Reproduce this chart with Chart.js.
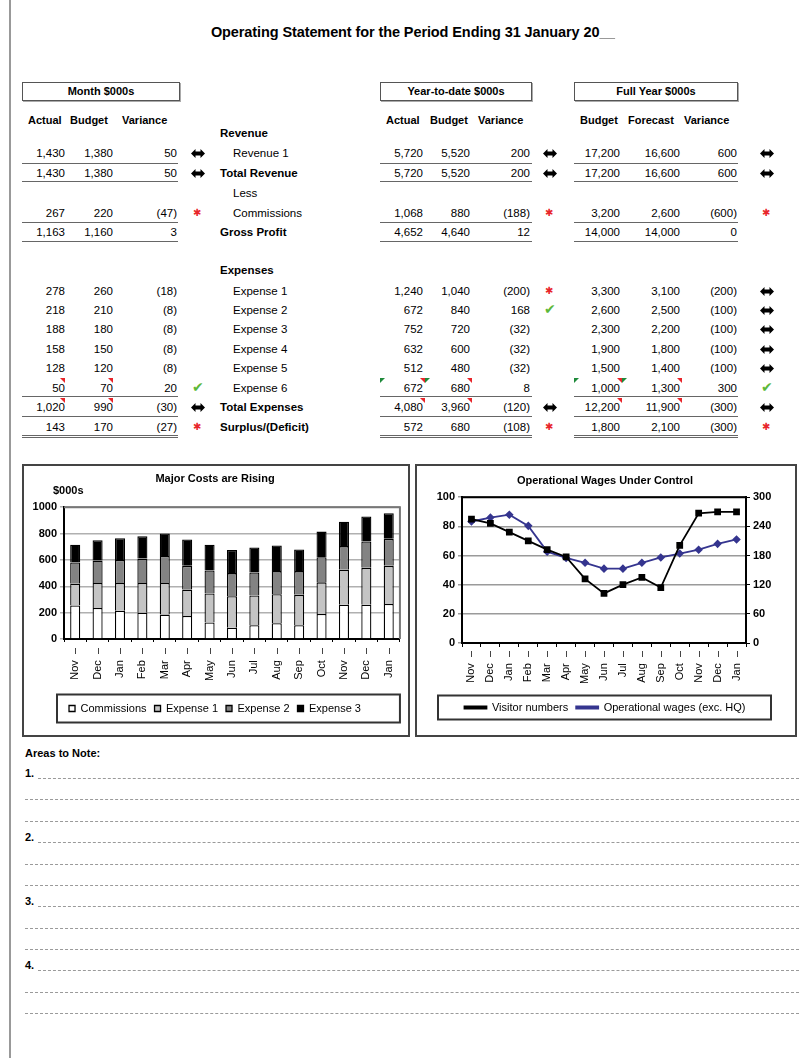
<!DOCTYPE html>
<html>
<head>
<meta charset="utf-8">
<script src="https://cdn.jsdelivr.net/npm/chart.js@4.4.0/dist/chart.umd.min.js"></script>
<style>
  body { margin: 0; background: #fff; }
  #page { position: relative; width: 799px; height: 1058px; overflow: hidden; font-family: "Liberation Sans", Arial, sans-serif; color: #000; }
  .t { position: absolute; white-space: nowrap; font-size: 11.5px; line-height: 14px; }
  .b { font-weight: bold; }
  .num { text-align: right; width: 80px; }
  .hbox { position: absolute; height: 17px; border: 1px solid #555; box-shadow: 1px 1px 0 #aaa; font-weight: bold; font-size: 11px; line-height: 17px; text-align: center; }
  .uline { position: absolute; height: 0; border-top: 1.5px solid #666; }
  .frame { position: absolute; border: 2px solid #444; background: #fff; }
  .note { position: absolute; height: 0; border-top: 1px dashed #9a9a9a; }
  .tri { position: absolute; width: 0; height: 0; }
</style>
</head>
<body>
<div id="page">
  <div style="position:absolute;left:9px;top:0;width:2px;height:1058px;background:#999"></div>
  <div class="t b" style="left:0;width:826px;top:23px;text-align:center;font-size:14.5px;line-height:18px;letter-spacing:-0.1px">Operating Statement for the Period Ending 31 January 20<span style="text-decoration:underline;color:#999">&nbsp;&nbsp;&nbsp;&nbsp;</span></div>

  <div class="hbox" style="left:22px;top:82px;width:156px">Month $000s</div>
  <div class="hbox" style="left:380px;top:82px;width:150px">Year-to-date $000s</div>
  <div class="hbox" style="left:574px;top:82px;width:162px">Full Year $000s</div>

  <div class="frame" style="left:22px;top:464px;width:384px;height:269px"><canvas id="costChart" width="384" height="269"></canvas></div>
  <div class="t b" style="left:53px;top:483px;font-size:11px">$000s</div>
  <div class="frame" style="left:415px;top:464px;width:378px;height:269px"><canvas id="wageChart" width="378" height="269"></canvas></div>

  <div class="t b" style="left:25px;top:746px;font-size:11px">Areas to Note:</div>
</div>

<script>
// Tabela: textos das linhas
const rowNames = ['Revenue 1', 'Total Revenue', 'Commissions', 'Gross Profit', 'Expense 1', 'Expense 2', 'Expense 3', 'Expense 4', 'Expense 5', 'Expense 6', 'Total Expenses', 'Surplus/(Deficit)'];
const rowBold = [false, true, false, true, false, false, false, false, false, false, true, true];

// Valores do mês
const monthActual = ['1,430', '1,430', '267', '1,163', '278', '218', '188', '158', '128', '50', '1,020', '143'];
const monthBudget = ['1,380', '1,380', '220', '1,160', '260', '210', '180', '150', '120', '70', '990', '170'];
const monthVar = ['50', '50', '(47)', '3', '(18)', '(8)', '(8)', '(8)', '(8)', '20', '(30)', '(27)'];
const monthFlag = ['eq', 'eq', 'bad', '', '', '', '', '', '', 'ok', 'eq', 'bad'];

// Valores acumulados no ano
const ytdActual = ['5,720', '5,720', '1,068', '4,652', '1,240', '672', '752', '632', '512', '672', '4,080', '572'];
const ytdBudget = ['5,520', '5,520', '880', '4,640', '1,040', '840', '720', '600', '480', '680', '3,960', '680'];
const ytdVar = ['200', '200', '(188)', '12', '(200)', '168', '(32)', '(32)', '(32)', '8', '(120)', '(108)'];
const ytdFlag = ['eq', 'eq', 'bad', '', 'bad', 'ok', '', '', '', '', 'eq', 'bad'];

// Valores do ano completo
const fyBudget = ['17,200', '17,200', '3,200', '14,000', '3,300', '2,600', '2,300', '1,900', '1,500', '1,000', '12,200', '1,800'];
const fyForecast = ['16,600', '16,600', '2,600', '14,000', '3,100', '2,500', '2,200', '1,800', '1,400', '1,300', '11,900', '2,100'];
const fyVar = ['600', '600', '(600)', '0', '(200)', '(100)', '(100)', '(100)', '(100)', '300', '(300)', '(300)'];
const fyFlag = ['eq', 'eq', 'bad', '', 'eq', 'eq', 'eq', 'eq', 'eq', 'ok', 'eq', 'bad'];

// Gráfico de custos
const months = ['Nov', 'Dec', 'Jan', 'Feb', 'Mar', 'Apr', 'May', 'Jun', 'Jul', 'Aug', 'Sep', 'Oct', 'Nov', 'Dec', 'Jan'];
const commissions = [255, 235, 215, 200, 185, 175, 125, 85, 105, 120, 105, 190, 260, 260, 265];
const expense1 = [165, 190, 210, 225, 240, 200, 220, 240, 225, 220, 230, 240, 265, 280, 290];
const expense2 = [160, 170, 175, 185, 205, 180, 175, 175, 175, 175, 180, 190, 180, 200, 205];
const expense3 = [135, 155, 165, 170, 170, 200, 195, 175, 190, 195, 165, 195, 185, 190, 195];
const costTicks = [0, 200, 400, 600, 800, 1000];

// Gráfico de salários
const visitorNumbers = [85, 82, 76, 70, 64, 59, 44, 34, 40, 45, 38, 67, 89, 90, 90];
const operationalWages = [250, 258, 264, 241, 188, 175, 165, 153, 153, 165, 176, 184, 192, 204, 213];

const page = document.getElementById('page');

function put(html, cls, style) {
    const d = document.createElement('div');
    d.className = cls;
    d.style.cssText = style;
    d.innerHTML = html;
    page.appendChild(d);
    return d;
}

// Posições das linhas e colunas
const rowY = [153, 173, 213, 232, 291, 310, 329, 349, 368, 388, 407, 427];
const groups = [
    { cols: [monthActual, monthBudget, monthVar], rights: [65, 113, 177], flags: monthFlag, icon: 198, line: [22, 178] },
    { cols: [ytdActual, ytdBudget, ytdVar], rights: [423, 470, 530], flags: ytdFlag, icon: 550, line: [380, 532] },
    { cols: [fyBudget, fyForecast, fyVar], rights: [620, 680, 737], flags: fyFlag, icon: 767, line: [574, 738] }
];

// Cabeçalhos das colunas
const heads = [['Actual', 28], ['Budget', 70], ['Variance', 122], ['Actual', 386], ['Budget', 430], ['Variance', 478], ['Budget', 580], ['Forecast', 628], ['Variance', 684]];
heads.forEach(h => put(h[0], 't b', `left:${h[1]}px;top:113px;font-size:11px`));

put('Revenue', 't b', 'left:220px;top:126px');
put('Less', 't', 'left:233px;top:186px');
put('Expenses', 't b', 'left:220px;top:263px');

const arrowSvg = '<svg width="14" height="9" viewBox="0 0 14 9"><path d="M0 4.5 L4.5 0 L4.5 2.6 L9.5 2.6 L9.5 0 L14 4.5 L9.5 9 L9.5 6.4 L4.5 6.4 L4.5 9 Z" fill="#000"/></svg>';

function icon(kind, x, y) {
    if (kind === 'eq') put(arrowSvg, 't', `left:${x - 7}px;top:${y - 6}px`);
    if (kind === 'bad') put('\u2731', 't', `left:${x - 5}px;top:${y - 7}px;color:#e8262b;font-family:'DejaVu Sans';font-size:10px`);
    if (kind === 'ok') put('\u2714', 't', `left:${x - 6}px;top:${y - 8}px;color:#5cb83a;font-family:'DejaVu Sans';font-size:14px`);
}

rowNames.forEach((name, i) => {
    const y = rowY[i];
    put(name, rowBold[i] ? 't b' : 't', `left:${rowBold[i] ? 220 : 233}px;top:${y - 7}px`);
    groups.forEach(g => {
        g.cols.forEach((col, c) => put(col[i], 't num', `left:${g.rights[c] - 80}px;top:${y - 7}px`));
        icon(g.flags[i], g.icon, y);
    });
});

// Sublinhados
const lineY = [163, 181, 222, 241, 396, 416, 435];
lineY.forEach((y, k) => groups.forEach(g => {
    put('', 'uline', `left:${g.line[0]}px;top:${y}px;width:${g.line[1] - g.line[0]}px`);
    if (k === lineY.length - 1) put('', 'uline', `left:${g.line[0]}px;top:${y + 2}px;width:${g.line[1] - g.line[0]}px`);
}));

// Marcadores de comentário
function tri(x, y, color, left) {
    const s = left ? `border-top:5px solid ${color};border-right:5px solid transparent;left:${x}px`
                   : `border-top:5px solid ${color};border-left:5px solid transparent;left:${x - 5}px`;
    put('', 'tri', `${s};top:${y}px`);
}
[[65, 378], [113, 378], [65, 398], [113, 398]].forEach(p => tri(p[0], p[1], '#e8262b', false));
[[425, 378], [472, 378], [425, 398], [472, 398], [622, 378], [682, 378], [622, 398], [682, 398]].forEach(p => tri(p[0], p[1], '#e8262b', false));
[[380, 378], [425, 378], [574, 378], [622, 378]].forEach(p => tri(p[0], p[1], '#1e8a3a', true));

// Áreas para anotação
const noteStart = 778;
for (let k = 0; k < 4; k++) {
    const y0 = noteStart + k * 64.1;
    put((k + 1) + '.', 't b', `left:25px;top:${y0 - 12}px;font-size:11px`);
    put('', 'note', `left:38px;top:${y0}px;width:761px`);
    put('', 'note', `left:25px;top:${y0 + 21.4}px;width:774px`);
    put('', 'note', `left:25px;top:${y0 + 42.8}px;width:774px`);
}

// Configuração geral dos gráficos
Chart.defaults.font.family = "'Liberation Sans', Arial, sans-serif";
Chart.defaults.font.size = 11;
Chart.defaults.font.weight = 'bold';
Chart.defaults.color = '#000';

// Plugin: moldura da área do gráfico e da legenda
const molduras = {
    id: 'molduras',
    afterDraw(chart, args, opts) {
        const ctx = chart.ctx;
        const a = chart.chartArea;
        ctx.save();
        ctx.strokeStyle = opts.plotColor || '#777';
        ctx.lineWidth = 2;
        ctx.beginPath();
        ctx.moveTo(a.left, a.top);
        ctx.lineTo(a.right, a.top);
        ctx.lineTo(a.right, a.bottom);
        ctx.stroke();
        const boxes = chart.legend.legendHitBoxes;
        if (boxes && boxes.length) {
            const cy = boxes[0].top + boxes[0].height / 2;
            ctx.strokeStyle = '#333';
            ctx.lineWidth = 2;
            ctx.strokeRect(a.left + opts.left, cy - opts.half, a.right + opts.right - a.left - opts.left, opts.half * 2);
        }
        ctx.restore();
    }
};

const monthLabels = months.map(m => m + '  \u2013');

new Chart(document.getElementById('costChart'), {
    type: 'bar',
    data: {
        labels: monthLabels,
        datasets: [
            { label: 'Commissions', data: commissions, backgroundColor: '#ffffff' },
            { label: 'Expense 1', data: expense1, backgroundColor: '#c4c4c4' },
            { label: 'Expense 2', data: expense2, backgroundColor: '#838383' },
            { label: 'Expense 3', data: expense3, backgroundColor: '#000000' }
        ]
    },
    options: {
        responsive: false,
        animation: false,
        datasets: { bar: { borderColor: '#000', borderWidth: 1.3, barPercentage: 0.45, categoryPercentage: 1 } },
        layout: { padding: { left: 0, right: 2, top: 0, bottom: 11 } },
        plugins: {
            title: { display: true, text: 'Major Costs are Rising', font: { size: 11, weight: 'bold' }, padding: { top: 6, bottom: 22 } },
            legend: { position: 'bottom', labels: { boxWidth: 6, boxHeight: 6, padding: 8, font: { weight: 'normal', size: 11 } } },
            tooltip: { enabled: false },
            molduras: { left: -7, right: 0, half: 14, plotColor: '#777' }
        },
        scales: {
            x: {
                stacked: true,
                grid: { drawOnChartArea: false, offset: true, tickLength: 3, color: '#000' },
                border: { color: '#000', width: 2 },
                ticks: { minRotation: 90, maxRotation: 90, autoSkip: false, padding: 6, font: { weight: 'normal' } },
                afterFit: s => { s.height = 56; }
            },
            y: {
                stacked: true,
                min: 0,
                max: 1000,
                afterBuildTicks: s => { s.ticks = costTicks.map(v => ({ value: v })); },
                grid: { color: '#b0b0b0', lineWidth: 1.5, tickLength: 4 },
                border: { color: '#000', width: 2 },
                ticks: { padding: 3, callback: v => String(v) },
                afterFit: s => { s.width = 40; }
            }
        }
    },
    plugins: [molduras]
});

new Chart(document.getElementById('wageChart'), {
    type: 'line',
    data: {
        labels: monthLabels,
        datasets: [
            { label: 'Visitor numbers', data: visitorNumbers, yAxisID: 'y', borderColor: '#000', backgroundColor: '#000', borderWidth: 1.8, pointStyle: 'rect', pointRadius: 3.5, tension: 0 },
            { label: 'Operational wages (exc. HQ)', data: operationalWages, yAxisID: 'y1', borderColor: '#35358f', backgroundColor: '#35358f', borderWidth: 1.8, pointStyle: 'rectRot', pointRadius: 3, tension: 0 }
        ]
    },
    options: {
        responsive: false,
        animation: false,
        layout: { padding: { left: 0, right: 2, top: 0, bottom: 12 } },
        plugins: {
            title: { display: true, text: 'Operational Wages Under Control', font: { size: 11, weight: 'bold' }, padding: { top: 8, bottom: 10 } },
            legend: { position: 'bottom', labels: { usePointStyle: false, boxWidth: 22, boxHeight: 2, padding: 8, font: { weight: 'normal', size: 11 } } },
            tooltip: { enabled: false },
            molduras: { left: -24, right: 25, half: 12, plotColor: '#000' }
        },
        scales: {
            x: {
                offset: true,
                grid: { drawOnChartArea: false, offset: true, tickLength: 4, color: '#000' },
                border: { color: '#000', width: 2 },
                ticks: { minRotation: 90, maxRotation: 90, autoSkip: false, padding: 4, font: { weight: 'normal' } },
                afterFit: s => { s.height = 51; }
            },
            y: {
                position: 'left',
                min: 0,
                max: 100,
                ticks: { stepSize: 20, padding: 3 },
                grid: { color: '#9a9a9a', lineWidth: 1.5, tickLength: 4 },
                border: { color: '#000', width: 2 },
                afterFit: s => { s.width = 45; }
            },
            y1: {
                position: 'right',
                min: 0,
                max: 300,
                ticks: { stepSize: 60, padding: 3 },
                grid: { drawOnChartArea: false, tickLength: 4, color: '#000' },
                border: { color: '#000', width: 2 },
                afterFit: s => { s.width = 47; }
            }
        }
    },
    plugins: [molduras]
});
</script>
</body>
</html>
